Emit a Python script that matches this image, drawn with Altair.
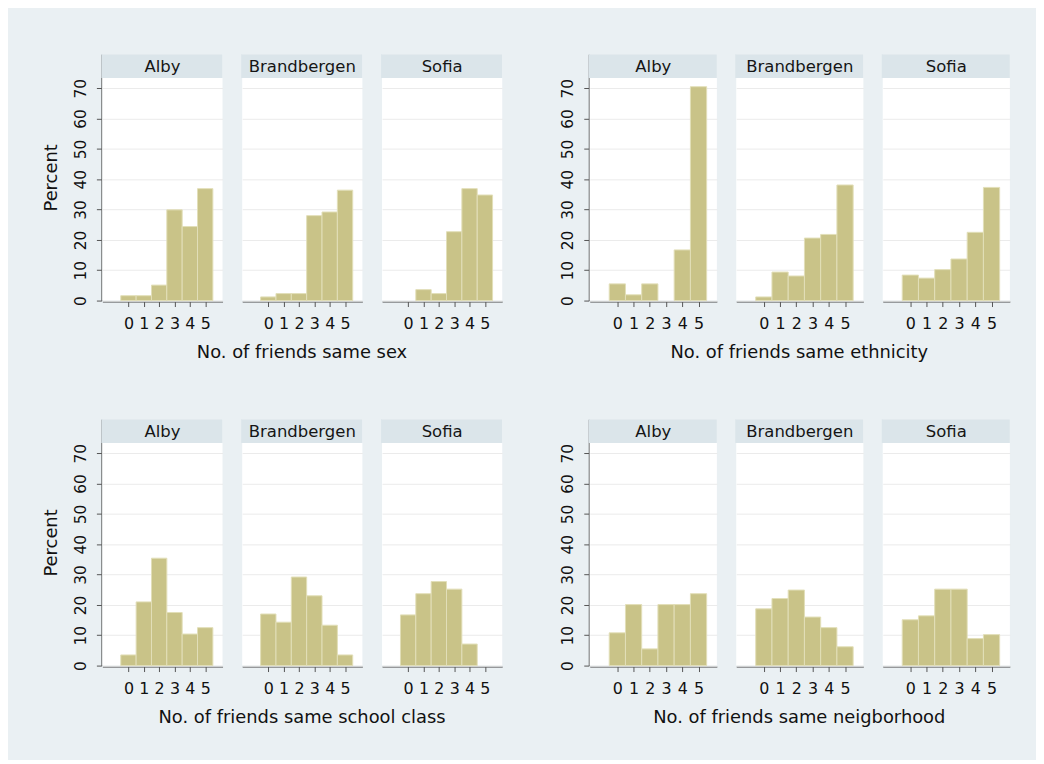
import altair as alt
import pandas as pd

towns = ["Alby", "Brandbergen", "Sofia"]
counts = [0, 1, 2, 3, 4, 5]
y_ticks = [0, 10, 20, 30, 40, 50, 60, 70]

# Percent of respondents, per number of friends (0..5)
sex_alby = [1.6, 1.6, 5.1, 29.9, 24.4, 36.9]
sex_brand = [1.2, 2.3, 2.3, 28.0, 29.2, 36.4]
sex_sofia = [0.0, 3.6, 2.3, 22.7, 36.9, 34.8]

eth_alby = [5.5, 1.9, 5.5, 0.0, 16.7, 70.5]
eth_brand = [1.2, 9.4, 8.1, 20.6, 21.8, 38.1]
eth_sofia = [8.4, 7.4, 10.2, 13.7, 22.5, 37.3]

cls_alby = [3.5, 21.0, 35.4, 17.5, 10.4, 12.5]
cls_brand = [17.0, 14.3, 29.2, 23.0, 13.3, 3.5]
cls_sofia = [16.7, 23.7, 27.7, 25.2, 7.1, 0.0]

nbh_alby = [10.8, 20.1, 5.5, 20.1, 20.1, 23.7]
nbh_brand = [18.7, 22.1, 24.9, 16.0, 12.5, 6.2]
nbh_sofia = [15.1, 16.4, 25.2, 25.2, 8.9, 10.2]

x_titles = [
    "No. of friends same sex",
    "No. of friends same ethnicity",
    "No. of friends same school class",
    "No. of friends same neigborhood",
]
y_title = "Percent"

BAR = "#c9c388"
EDGE = "#e2dfb8"
HDR = "#dbe5ea"
BG = "#eaf0f3"
AX = "#555555"
FONT = "DejaVu Sans"
HDR_H = 24
CELL_H = 248


def group(vals, xtitle, width, spacing, ytitle):
    rows = []
    for t, v in zip(towns, vals):
        for k, p in zip(counts, v):
            rows.append({"town": t, "k": k, "pct": p})
    df = pd.DataFrame(rows)
    base = alt.Chart(df)
    yaxis_kw = dict(
        values=y_ticks, grid=True, gridColor="#ebebeb", tickSize=5,
        labelPadding=8, labelAngle=270, labelAlign="center", labelBaseline="bottom",
        labelFontSize=15.5, titleFontSize=18, titleFontWeight="normal",
        titlePadding=13, domainColor=AX, tickColor=AX, zindex=0,
    )
    if ytitle:
        yaxis = alt.Axis(title=ytitle, **yaxis_kw)
    else:
        yaxis = alt.Axis(title=None, **yaxis_kw)
    bars = (
        base.transform_filter("datum.pct > 0")
        .transform_calculate(x0="datum.k - 0.5", x1="datum.k + 0.5")
        .mark_bar(color=BAR, stroke=EDGE, strokeWidth=1)
        .encode(
            x=alt.X("x0:Q", scale=alt.Scale(domain=[-1.7, 6.13], nice=False, zero=False),
                    axis=alt.Axis(values=counts, title=None, grid=False, tickSize=5,
                                  labelPadding=9, labelFontSize=16, labelFlush=False,
                                  labelAngle=0, domainColor=AX, tickColor=AX, zindex=1)),
            x2="x1:Q",
            y=alt.Y("pct:Q", scale=alt.Scale(domain=[0, 81.2], nice=False), axis=yaxis),
            y2=alt.datum(0),
        )
    )
    hdr = (
        base.transform_filter("datum.k == 0")
        .mark_rect(color=HDR)
        .encode(x=alt.value(-1), x2=alt.value(width), y=alt.value(0), y2=alt.value(HDR_H))
    )
    txt = (
        base.transform_filter("datum.k == 0")
        .mark_text(fontSize=16.6, baseline="middle", align="center", color="#151515", font=FONT)
        .encode(x=alt.value(width / 2), y=alt.value(HDR_H / 2 + 0.5), text="town:N")
    )
    return (
        alt.layer(bars, hdr, txt)
        .properties(width=width, height=CELL_H)
        .facet(
            column=alt.Column(
                "town:N", sort=towns,
                header=alt.Header(labels=False, title=xtitle, titleOrient="bottom",
                                  titleFontSize=18, titleFontWeight="normal",
                                  titleColor="#111111", titleFont=FONT, titlePadding=3),
            ),
            spacing=spacing,
        )
    )


g1 = group([sex_alby, sex_brand, sex_sofia], x_titles[0], 121, 18.8, y_title)
g2 = group([eth_alby, eth_brand, eth_sofia], x_titles[1], 128, 18.5, None)
g3 = group([cls_alby, cls_brand, cls_sofia], x_titles[2], 121, 18.8, y_title)
g4 = group([nbh_alby, nbh_brand, nbh_sofia], x_titles[3], 128, 18.5, None)

top = alt.hconcat(g1, g2, spacing=58.7)
bottom = alt.hconcat(g3, g4, spacing=58.7)

chart = (
    alt.vconcat(top, bottom, spacing=57.5)
    .properties(padding={"left": 35, "top": 44, "right": 26, "bottom": 30})
    .configure(background=BG, font=FONT)
    .configure_view(fill="white", stroke=None)
    .configure_axis(labelColor="#111111", titleColor="#111111", labelFont=FONT, titleFont=FONT)
)

chart.save("out.html", embed_options={"renderer": "svg", "actions": False})
